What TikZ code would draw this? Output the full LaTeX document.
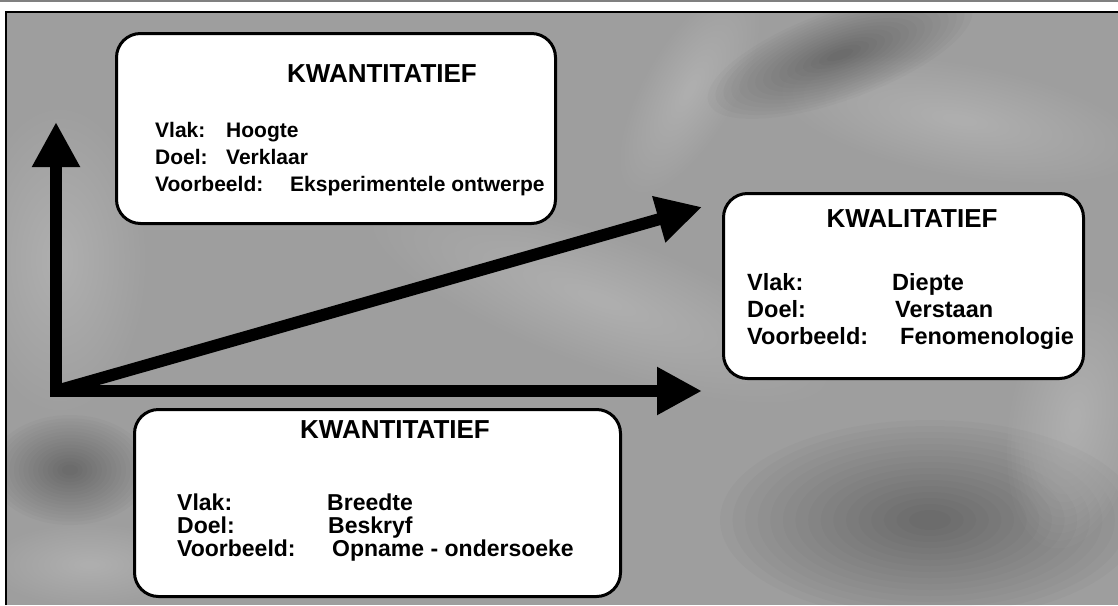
\documentclass[tikz,border=0pt]{standalone}
\usepackage{fontspec}
\setmainfont{Liberation Sans}
\usetikzlibrary{arrows.meta}
\definecolor{slate}{HTML}{9E9E9E}
% soft patch made of stacked translucent ellipses: colour, x, y, rx, ry, angle
\newcommand\blotch[6]{%
  \foreach \s in {1,0.94,...,0.1}{%
    \fill[#1, opacity=0.018, rotate around={#6:(#2,#3)}]
      (#2,#3) ellipse [x radius=\s*#4, y radius=\s*#5];}}
\begin{document}
\begin{tikzpicture}[x=1pt,y=-1pt,
  panel/.style={draw=black, line width=3pt, fill=white, rounded corners=24pt, inner sep=0pt},
  heading/.style={anchor=base, inner sep=0pt, font=\fontsize{26}{30}\selectfont\bfseries},
  rowA/.style={anchor=base west, inner sep=0pt, font=\fontsize{21}{25}\selectfont\bfseries},
  rowB/.style={anchor=base west, inner sep=0pt, font=\fontsize{23}{27}\selectfont\bfseries},
  rowC/.style={anchor=base west, inner sep=0pt, font=\fontsize{23.5}{27}\selectfont\bfseries},
  axis/.style={line width=12pt, line join=miter},
  bigtip/.tip={Triangle[length=45pt,width=45pt]}
]
\useasboundingbox (0,0) rectangle (1118,605);
\fill[white] (0,0) rectangle (1118,605);
\draw[gray, line width=1.5pt] (0,1) -- (1118,1);

% mottled grey backdrop with soft light and dark patches
\begin{scope}
  \clip (6,12) rectangle (1118,605);
  \fill[slate] (6,12) rectangle (1118,605);
  \blotch{white}{60}{260}{85}{150}{0}
  \blotch{white}{600}{300}{240}{65}{-20}
  \blotch{white}{690}{90}{115}{45}{60}
  \blotch{white}{960}{120}{180}{55}{-10}
  \blotch{black}{930}{520}{210}{100}{0}
  \blotch{black}{840}{55}{140}{45}{20}
  \blotch{black}{70}{470}{80}{55}{0}
  \blotch{white}{90}{565}{100}{40}{0}
  \blotch{white}{1075}{420}{65}{130}{-10}
\end{scope}
\draw[black, line width=2pt] (6,605) -- (6,12) -- (1118,12);

% three information panels
\node[panel, minimum width=439pt, minimum height=190pt] (topbox) at (336,128.5) {};
\node[panel, minimum width=360pt, minimum height=185pt] (rightbox) at (903.5,286) {};
\node[panel, minimum width=486pt, minimum height=187pt] (lowbox) at (377.5,503) {};

% axes from the common origin
\coordinate (o) at (56,391);
\coordinate (ytip) at (56,122);
\coordinate (xtip) at (702,391);
\coordinate (dtip) at (702,207);
\draw[axis, {bigtip}-{bigtip}] (ytip) -- (o) -- (xtip);
\draw[axis, -{bigtip}] (o) -- (dtip);

% upper panel
\node[heading] (h1) at (382,82) {KWANTITATIEF};
\node[rowA] (a1) at (155,137) {Vlak:};
\node[rowA] (a2) at (226,137) {Hoogte};
\node[rowA] (a3) at (155,164) {Doel:};
\node[rowA] (a4) at (226,164) {Verklaar};
\node[rowA] (a5) at (155,191) {Voorbeeld:};
\node[rowA] (a6) at (290,191) {Eksperimentele ontwerpe};

% right panel
\node[heading] (h2) at (912,227) {KWALITATIEF};
\node[rowC] (c1) at (747,290) {Vlak:};
\node[rowC] (c2) at (892,290) {Diepte};
\node[rowC] (c3) at (747,317) {Doel:};
\node[rowC] (c4) at (895,317) {Verstaan};
\node[rowC] (c5) at (747,344) {Voorbeeld:};
\node[rowC] (c6) at (900,344) {Fenomenologie};

% lower panel
\node[heading] (h3) at (395,438) {KWANTITATIEF};
\node[rowB] (b1) at (177,510) {Vlak:};
\node[rowB] (b2) at (327,510) {Breedte};
\node[rowB] (b3) at (177,533) {Doel:};
\node[rowB] (b4) at (328,533) {Beskryf};
\node[rowB] (b5) at (177,556) {Voorbeeld:};
\node[rowB] (b6) at (332,556) {Opname - ondersoeke};
\end{tikzpicture}
\end{document}
